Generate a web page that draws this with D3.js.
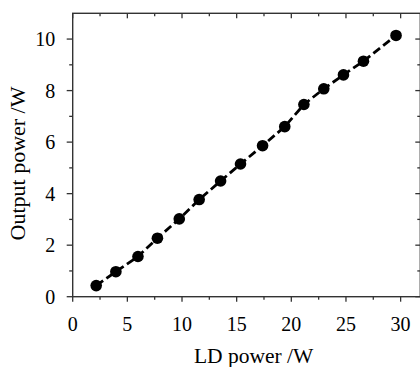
<!DOCTYPE html>
<html>
<head>
<meta charset="utf-8">
<script src="https://cdn.jsdelivr.net/npm/d3@7"></script>
<style>
  html, body { margin: 0; padding: 0; background: #fff; }
  svg { display: block; }
  text { font-family: "Liberation Serif", "Times New Roman", serif; fill: #000; }
</style>
</head>
<body>
<div id="chart"></div>
<script>
// data
const ldPower = [2.15, 3.95, 5.97, 7.75, 9.75, 11.57, 13.53, 15.35, 17.37, 19.4, 21.15, 22.97, 24.77, 26.6, 29.58];
const outputPower = [0.43, 0.97, 1.56, 2.27, 3.02, 3.77, 4.49, 5.15, 5.86, 6.6, 7.46, 8.07, 8.61, 9.14, 10.14];
const xTicks = [0, 5, 10, 15, 20, 25, 30];
const yTicks = [0, 2, 4, 6, 8, 10];

const width = 420, height = 367;
const margin = { top: 13.3, right: -0.3, bottom: 70.3, left: 72.7 };
const w = width - margin.left - margin.right;
const h = height - margin.top - margin.bottom;

const svg = d3.select('#chart').append('svg')
    .attr('width', width)
    .attr('height', height);

const g = svg.append('g').attr('transform', `translate(${margin.left},${margin.top})`);

const x = d3.scaleLinear().domain([0, 31.8]).range([0, w]);
const y = d3.scaleLinear().domain([0, 11]).range([h, 0]);

const axisColor = '#333';
const minorX = d3.range(0, 31.8, 2.5).filter(v => v % 5 !== 0);
const minorY = d3.range(1, 11, 2);

// frame
g.append('rect')
    .attr('x', 0).attr('y', 0)
    .attr('width', w).attr('height', h)
    .attr('fill', 'none')
    .attr('stroke', axisColor)
    .attr('stroke-width', 1.4);

function tickLines(data, x1, y1, x2, y2) {
    g.append('g').selectAll('line').data(data).join('line')
        .attr('x1', x1).attr('y1', y1).attr('x2', x2).attr('y2', y2)
        .attr('stroke', axisColor)
        .attr('stroke-width', 1.3);
}

// bottom: outward ticks
tickLines(xTicks, d => x(d), h, d => x(d), h + 5);
tickLines(minorX, d => x(d), h, d => x(d), h + 3);
// top: inward ticks
tickLines(xTicks, d => x(d), 0, d => x(d), 5);
tickLines(minorX, d => x(d), 0, d => x(d), 3);
// left: outward ticks
tickLines(yTicks, -6, d => y(d), 0, d => y(d));
tickLines(minorY, -3.5, d => y(d), 0, d => y(d));
// right: inward ticks
tickLines(yTicks, w - 5, d => y(d), w, d => y(d));
tickLines(minorY, w - 3, d => y(d), w, d => y(d));

// tick labels
g.append('g').selectAll('text').data(xTicks).join('text')
    .attr('x', d => x(d))
    .attr('y', h + 34)
    .attr('text-anchor', 'middle')
    .attr('font-size', 20)
    .text(d => d);

g.append('g').selectAll('text').data(yTicks).join('text')
    .attr('x', -17.5)
    .attr('y', d => y(d) + 7.2)
    .attr('text-anchor', 'end')
    .attr('font-size', 20)
    .text(d => d);

// axis titles
svg.append('text')
    .attr('x', 253.7)
    .attr('y', 363)
    .attr('text-anchor', 'middle')
    .attr('font-size', 21.5)
    .text('LD power /W');

svg.append('text')
    .attr('transform', 'translate(25,163.5) rotate(-90)')
    .attr('text-anchor', 'middle')
    .attr('font-size', 22)
    .text('Output power /W');

// series
const pts = ldPower.map((v, i) => [v, outputPower[i]]);
const line = d3.line().x(d => x(d[0])).y(d => y(d[1]));

g.append('path')
    .datum(pts)
    .attr('fill', 'none')
    .attr('stroke', '#000')
    .attr('stroke-width', 2.8)
    .attr('stroke-dasharray', '8.5,4')
    .attr('d', line);

g.append('g').selectAll('circle').data(pts).join('circle')
    .attr('cx', d => x(d[0]))
    .attr('cy', d => y(d[1]))
    .attr('r', 5.8)
    .attr('fill', '#000');
</script>
</body>
</html>
